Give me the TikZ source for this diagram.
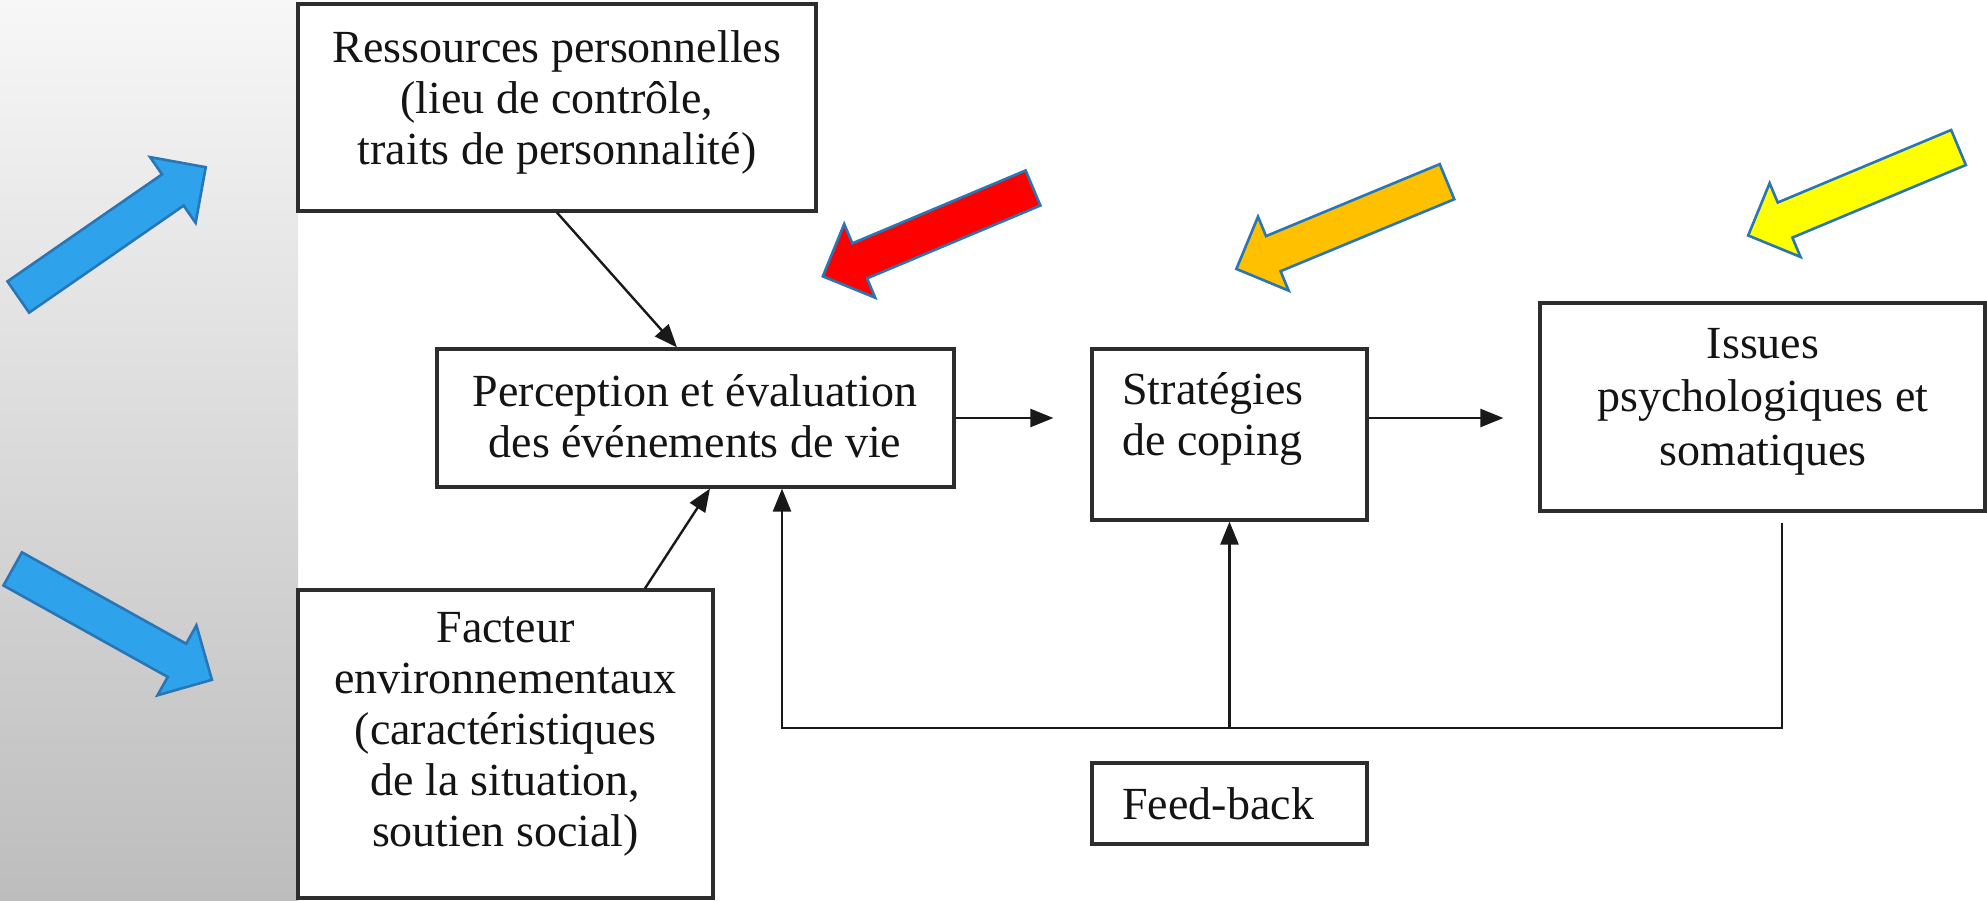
\documentclass[tikz,border=0pt]{standalone}
\usepackage{fontspec}
\setmainfont{Liberation Serif}
\usetikzlibrary{arrows.meta}
\definecolor{boxc}{RGB}{45,45,45}
\definecolor{connc}{RGB}{25,25,25}
\definecolor{textc}{RGB}{20,20,20}
\definecolor{panelTop}{RGB}{247,247,247}
\definecolor{panelBot}{RGB}{189,189,189}
\definecolor{outlinec}{RGB}{40,118,182}
\definecolor{bluefill}{RGB}{46,162,235}
\definecolor{redfill}{RGB}{255,0,0}
\definecolor{orangefill}{RGB}{255,192,0}
\definecolor{yellowfill}{RGB}{255,255,0}
\newcommand{\fatarrow}[4]{%
  \begin{scope}[shift={(#1,#2)},rotate=#3]
    \draw[fatline,fill=#4] (0,-19) -- (188,-19) -- (188,-40) -- (228,0) -- (188,40) -- (188,19) -- (0,19) -- cycle;
  \end{scope}}
\begin{document}
\begin{tikzpicture}[x=0.5pt,y=-0.5pt,
  box/.style={draw=boxc, line width=1.6pt, inner sep=0pt, fill=white},
  txt/.style={inner sep=0pt, text=textc, font=\fontsize{23}{25.5}\selectfont},
  conn/.style={draw=connc, line width=1.2pt},
  arr/.style={conn, -{Triangle[length=11.5pt,width=9pt]}},
  fatline/.style={draw=outlinec, line width=1.3pt, line join=miter}]
\useasboundingbox (0,0) rectangle (1987,900);
\fill[white] (0,0) rectangle (1987,900);
\shade[top color=panelTop, bottom color=panelBot] (0,0) rectangle (298,900);

% boxes
\node[box, minimum width=259pt, minimum height=103.5pt] (res) at (557,107.5) {};
\node[box, minimum width=258.5pt, minimum height=69pt] (per) at (695.5,418) {};
\node[box, minimum width=137.5pt, minimum height=85.5pt] (str) at (1229.5,434.5) {};
\node[box, minimum width=222.5pt, minimum height=104pt] (iss) at (1762.5,407) {};
\node[box, minimum width=207.5pt, minimum height=154pt] (fac) at (505.5,744) {};
\node[box, minimum width=137.5pt, minimum height=40.5pt] (fb) at (1229.5,803.5) {};

% texts
\node[txt, align=center, anchor=north] (rest) at (557,26.3)
  {\strut Ressources personnelles\\\strut (lieu de contrôle,\\\strut traits de personnalité)};
\node[txt, align=center, anchor=north] (pert) at (695,370.3)
  {\strut Perception et évaluation\\\strut des événements de vie};
\node[txt, align=left, anchor=north west] (strt) at (1122,368.3)
  {\strut Stratégies\\\strut de coping};
\node[txt, align=center, anchor=north, font=\fontsize{23}{26.75}\selectfont] (isst) at (1763,320.5)
  {\strut Issues\\\strut psychologiques et\\\strut somatiques};
\node[txt, align=center, anchor=north] (fact) at (505.5,606.3)
  {\strut Facteur\\\strut environnementaux\\\strut (caractéristiques\\\strut de la situation,\\\strut soutien social)};
\node[txt, anchor=base west] (fbt) at (1122,819) {Feed-back};

% connectors
\draw[arr] (res.south) -- ([xshift=-9.25pt]per.north);
\draw[arr] ([xshift=69.75pt]fac.north) -- ([xshift=7.25pt]per.south);
\draw[arr, shorten >=18.5pt] (per.east) -- (str.west |- per.east);
\draw[arr, shorten >=17.5pt] (str.east |- per.east) -- (iss.west |- per.east);
\coordinate (fbL) at (782,728);
\draw[arr] ([xshift=9.75pt,yshift=-5pt]iss.south) |- (fbL) -- (fbL |- per.south);
\draw[arr] (str.south |- fbL) -- (str.south);

% block arrows
\fatarrow{18.3}{297}{34.7}{bluefill}
\fatarrow{12.7}{568.9}{-29.1}{bluefill}
\fatarrow{1033}{188}{-157.2}{redfill}
\fatarrow{1447}{181.7}{-157.5}{orangefill}
\fatarrow{1958.5}{147.5}{-157.3}{yellowfill}
\end{tikzpicture}
\end{document}
